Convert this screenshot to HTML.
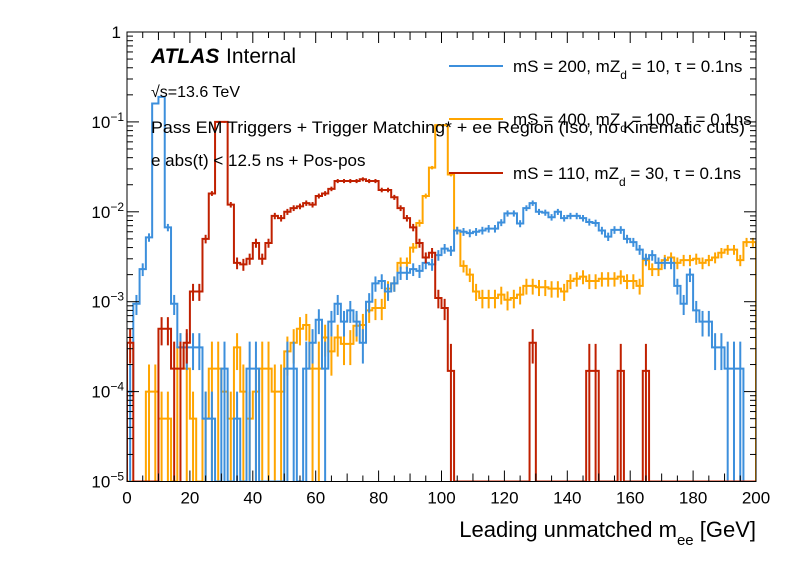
<!DOCTYPE html>
<html><head><meta charset="utf-8"><style>
body{margin:0;background:#fff;}
svg text{font-family:"Liberation Sans",sans-serif;fill:#000;}
</style></head><body>
<svg id="chart" width="796" height="572" viewBox="0 0 796 572" xmlns="http://www.w3.org/2000/svg">
<defs><clipPath id="pc"><rect x="127" y="32" width="629" height="449.5"/></clipPath></defs>
<rect x="0" y="0" width="796" height="572" fill="#fff"/>
<g id="series" clip-path="url(#pc)"></g>
<g id="axes"></g>
<text x="151" y="63" font-size="21" font-weight="bold" font-style="italic">ATLAS</text>
<text x="226" y="63" font-size="21">Internal</text>
<text x="151" y="97" font-size="16">√s=13.6 TeV</text>
<text x="151" y="133" font-size="17" textLength="594" lengthAdjust="spacingAndGlyphs">Pass EM Triggers + Trigger Matching* + ee Region (Iso, no Kinematic cuts)</text>
<text x="151" y="166" font-size="17">e abs(t) &lt; 12.5 ns + Pos-pos</text>
<g>
<line x1="449" y1="66" x2="503" y2="66" stroke="#3c8fdc" stroke-width="2"/>
<text x="513" y="72" font-size="17">mS = 200, mZ<tspan dy="7" font-size="12">d</tspan><tspan dy="-7"> = 10, τ = 0.1ns</tspan></text>
<line x1="449" y1="119" x2="503" y2="119" stroke="#ffa500" stroke-width="2"/>
<text x="513" y="125" font-size="17">mS = 400, mZ<tspan dy="7" font-size="12">d</tspan><tspan dy="-7"> = 100, τ = 0.1ns</tspan></text>
<line x1="449" y1="173" x2="503" y2="173" stroke="#c02000" stroke-width="2"/>
<text x="513" y="179" font-size="17">mS = 110, mZ<tspan dy="7" font-size="12">d</tspan><tspan dy="-7"> = 30, τ = 0.1ns</tspan></text>
</g>
<text x="756" y="537" font-size="22" text-anchor="end">Leading unmatched m<tspan dy="8" font-size="15">ee</tspan><tspan dy="-8"> [GeV]</tspan></text>
</svg>
<script>
const binEdgesGeV = [0, 200];
const nBins = 100;
const xTicks = [0,20,40,60,80,100,120,140,160,180,200];
const yTickExps = [-5,-4,-3,-2,-1,0];
const blueValues = [1e-4,9.5e-4,2.3e-3,5.2e-3,0.16,0.19,6.7e-3,9.5e-4,3.1e-4,3.1e-4,3.1e-4,3.1e-4,5e-5,5e-5,0,1.8e-4,0,5e-5,0,1.8e-4,1.8e-4,0,0,0,0,1.8e-4,1.8e-4,0,1.8e-4,3.5e-4,6.3e-4,1.8e-4,6e-4,9.5e-4,6e-4,8e-4,6e-4,3.5e-4,1e-3,1.6e-3,1.7e-3,1.3e-3,1.6e-3,2.1e-3,2.1e-3,2.3e-3,2.2e-3,2.7e-3,2.6e-3,3.3e-3,3.9e-3,3.7e-3,6.2e-3,6e-3,5.8e-3,6e-3,6.2e-3,6.5e-3,6.5e-3,7.6e-3,9.6e-3,9.6e-3,7.4e-3,1.1e-2,1.25e-2,1e-2,9.8e-3,8.7e-3,1e-2,8.5e-3,9e-3,9e-3,8.5e-3,7.7e-3,7.5e-3,6.2e-3,5.3e-3,6.3e-3,6.3e-3,5e-3,4.6e-3,3.8e-3,3e-3,3.3e-3,2.7e-3,2.7e-3,2.7e-3,1.5e-3,9.5e-4,2e-3,8e-4,6e-4,6e-4,3.1e-4,3.1e-4,1.8e-4,1.8e-4,1.8e-4,0,0];
const orangeValues = [0,0,0,1e-4,1e-4,5e-5,5e-5,0,3.1e-4,1.8e-4,5e-5,0,5e-5,1.8e-4,1.8e-4,1e-4,5e-5,3.1e-4,1e-4,5e-5,1e-4,1.8e-4,1.8e-4,1e-4,1e-4,2.8e-4,3.5e-4,5e-4,5.5e-4,1.8e-4,1.8e-4,4e-4,2.8e-4,4e-4,3.4e-4,3.4e-4,5.4e-4,5.5e-4,8e-4,8.5e-4,8.5e-4,1.4e-3,1.6e-3,2.7e-3,2.7e-3,4e-3,7.5e-3,1.5e-2,3.1e-2,9.2e-2,9.2e-2,2.6e-2,6.2e-3,2.5e-3,2e-3,1.3e-3,1.1e-3,1.1e-3,1.1e-3,1.2e-3,1.05e-3,1.1e-3,1.2e-3,1.5e-3,1.5e-3,1.45e-3,1.45e-3,1.4e-3,1.4e-3,1.3e-3,1.7e-3,1.8e-3,1.9e-3,1.7e-3,1.7e-3,1.8e-3,1.8e-3,1.8e-3,1.9e-3,1.7e-3,1.7e-3,1.5e-3,2.9e-3,2.3e-3,2.3e-3,2.9e-3,3.1e-3,2.7e-3,2.9e-3,2.9e-3,3e-3,2.7e-3,2.9e-3,3.1e-3,3.5e-3,3.8e-3,3.8e-3,2.9e-3,4.6e-3,4.6e-3];
const redValues = [3.5e-4,0,0,0,0,5e-4,5e-4,1.8e-4,1.8e-4,3.5e-4,1.3e-3,1.3e-3,5e-3,1.6e-2,0.1,0.1,1.2e-2,2.7e-3,2.6e-3,3e-3,4.5e-3,3e-3,4.5e-3,9e-3,8.5e-3,1e-2,1.1e-2,1.15e-2,1.25e-2,1.2e-2,1.5e-2,1.6e-2,1.8e-2,2.2e-2,2.2e-2,2.2e-2,2.2e-2,2.3e-2,2.2e-2,2.2e-2,1.75e-2,1.75e-2,1.45e-2,1.1e-2,8.5e-3,6.7e-3,4.5e-3,3.1e-3,3.5e-3,1.1e-3,8.5e-4,1.7e-4,0,0,0,0,0,0,0,0,0,0,0,0,3.5e-4,0,0,0,0,0,0,0,0,1.7e-4,1.7e-4,0,0,0,1.7e-4,0,0,0,1.7e-4,0,0,0,0,0,0,0,0,0,0,0,0,0,0,0,0,0];

const NS='http://www.w3.org/2000/svg';
const X0=127,X1=756,Y0=481.5,YT=32;
function xs(v){return X0+(v-binEdgesGeV[0])/(binEdgesGeV[1]-binEdgesGeV[0])*(X1-X0);}
function ys(v){if(v<=0)return Y0;return YT+(0-Math.log10(v))*(Y0-YT)/5;}
function mk(tag,attrs,parent){const e=document.createElementNS(NS,tag);for(const k in attrs)e.setAttribute(k,attrs[k]);parent.appendChild(e);return e;}
const series=document.getElementById('series');
const bw=(binEdgesGeV[1]-binEdgesGeV[0])/nBins;
function drawSeries(vals,color,name){
  const g=mk('g',{},series);
  
  
  let d='M'+xs(0)+','+Y0;
  vals.forEach((v,i)=>{const y=ys(v);d+=' L'+xs(i*bw)+','+y+' L'+xs((i+1)*bw)+','+y;});
  d+=' L'+xs(binEdgesGeV[1])+','+Y0;
  vals.forEach((v,i)=>{
    if(v<=0)return;
    const r=v<=2e-4?1:Math.sqrt(6e-5/v);
    const lo=v*(1-r),hi=v*(1+r);
    const cx=xs((i+0.5)*bw);
    const eb=mk('line',{x1:cx,x2:cx,y1:ys(hi),y2:lo>0?ys(lo):Y0+5,stroke:color,'stroke-width':2},g);
    
    
  });
  const p=mk('path',{d:d,fill:'none',stroke:color,'stroke-width':2},g);
  
  
}
drawSeries(orangeValues,'#ffa500','orange');
drawSeries(blueValues,'#3c8fdc','blue');
drawSeries(redValues,'#c02000','red');

const axes=document.getElementById('axes');
const fr=mk('rect',{x:X0,y:YT,width:X1-X0,height:Y0-YT,fill:'none',stroke:'#000','stroke-width':1},axes);


for(let v=0;v<=200;v+=5){
  const x=xs(v);const L=(v%20===0)?11:(v%10===0?8:6);
  mk('line',{x1:x,x2:x,y1:Y0,y2:Y0-L,stroke:'#000'},axes);
  mk('line',{x1:x,x2:x,y1:YT,y2:YT+L,stroke:'#000'},axes);
}
xTicks.forEach(v=>{
  const t=mk('text',{x:xs(v),y:Y0+22,'font-size':17,'text-anchor':'middle'},axes);
  t.textContent=v;
  
  
});
yTickExps.forEach(e=>{
  if(e<0){for(let m=2;m<=9;m++){const y=ys(m*Math.pow(10,e));
    mk('line',{x1:X0,x2:X0+6,y1:y,y2:y,stroke:'#000'},axes);
    mk('line',{x1:X1,x2:X1-6,y1:y,y2:y,stroke:'#000'},axes);}}
  const y=ys(Math.pow(10,e));
  mk('line',{x1:X0,x2:X0+12,y1:y,y2:y,stroke:'#000'},axes);
  mk('line',{x1:X1,x2:X1-12,y1:y,y2:y,stroke:'#000'},axes);
  const t=mk('text',{x:X0-6,y:y+6,'font-size':17,'text-anchor':'end'},axes);
  
  
  if(e===0){t.textContent='1';}
  else{t.textContent='10';const s=document.createElementNS(NS,'tspan');s.setAttribute('dy','-7');s.setAttribute('font-size','12');s.textContent='\u2212'+(-e);t.appendChild(s);t.setAttribute('x',X0-3);}
});
</script>
</body></html>
